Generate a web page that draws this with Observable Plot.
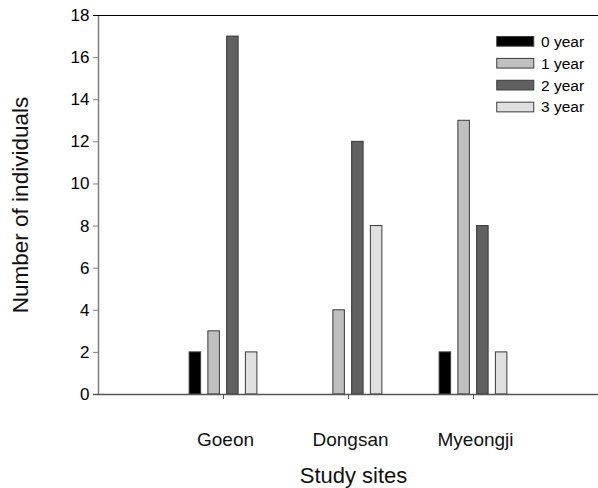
<!DOCTYPE html>
<html>
<head>
<meta charset="utf-8">
<script src="https://cdn.jsdelivr.net/npm/d3@7"></script>
<script src="https://cdn.jsdelivr.net/npm/@observablehq/plot@0.6"></script>
<style>
  html, body { margin: 0; padding: 0; background: #fff; }
  svg { display: block; }
</style>
</head>
<body>
<div id="chart"></div>
<script>
const sites = ["Goeon", "Dongsan", "Myeongji"];
const years = ["0 year", "1 year", "2 year", "3 year"];
const colors = ["#000000", "#c0c0c0", "#606060", "#e0e0e0"];
const values = {
  "0 year": [2, 0, 2],
  "1 year": [3, 4, 13],
  "2 year": [17, 12, 8],
  "3 year": [2, 8, 2]
};
const yTicks = [0, 2, 4, 6, 8, 10, 12, 14, 16, 18];
const xTicks = [1, 2, 3];

const data = [];
sites.forEach((s, i) => years.forEach((yr, j) => {
  data.push({site: s, si: i, year: yr, yj: j, value: values[yr][i]});
}));
const bars = data.filter(d => d.value > 0);

const pitch = 0.15, bw = 0.092;
const cx = d => d.si + 1 + (d.yj - 1.5) * pitch;

const legendRows = years.map((yr, j) => ({year: yr, j}));
const legendY = j => 16.75 - j * 1.04;

const plot = Plot.plot({
  width: 598,
  height: 488,
  marginLeft: 98,
  marginRight: 0,
  marginTop: 15,
  marginBottom: 94,
  style: {fontFamily: "Liberation Sans, Arial, sans-serif", fontSize: "14px", color: "#000", background: "#fff"},
  x: {type: "linear", domain: [0, 4], axis: null},
  y: {type: "linear", domain: [0, 18], axis: null},
  color: {domain: years, range: colors},
  marks: [
    Plot.rectY(bars, {
      x1: d => cx(d) - bw / 2, x2: d => cx(d) + bw / 2,
      y1: 0, y2: "value",
      fill: "year", stroke: "#3a3a3a", strokeWidth: 1
    }),
    // left axis (gray)
    Plot.ruleX([0], {y1: 0, y2: 18, stroke: "#808080", strokeWidth: 1.5}),
    Plot.ruleY(yTicks, {y: d => d, x1: -0.04, x2: 0, stroke: "#808080", strokeWidth: 1}),
    Plot.text(yTicks, {x: 0, y: d => d, text: d => String(d), textAnchor: "end", dx: -9, fontSize: 17, fill: "#000"}),
    // top line
    Plot.ruleY([18], {x1: -0.04, x2: 4, stroke: "#000", strokeWidth: 1.2}),
    // bottom axis
    Plot.ruleY([0], {x1: -0.04, x2: 4, stroke: "#555", strokeWidth: 1.5}),
    Plot.ruleX(xTicks, {x: d => d, y1: 0, y2: -0.24, stroke: "#555"}),
    Plot.text(sites, {x: (d, i) => xTicks[i], y: 0, text: d => d, dy: 45, dx: 2, fontSize: 19, fill: "#111"}),
    Plot.text(["Study sites"], {x: 2, y: 0, text: d => d, dy: 81, dx: 5, fontSize: 22, fill: "#111"}),
    Plot.text(["Number of individuals"], {x: 0, y: 9, text: d => d, rotate: -90, dx: -78, fontSize: 22.5, fill: "#111"}),
    // legend
    Plot.rect(legendRows, {
      x1: 3.19, x2: 3.486,
      y1: d => legendY(d.j) - 0.23, y2: d => legendY(d.j) + 0.23,
      fill: "year", stroke: "#3a3a3a", strokeWidth: 1
    }),
    Plot.text(legendRows, {x: 3.54, y: d => legendY(d.j), text: "year", textAnchor: "start", fontSize: 15.5, fill: "#000"})
  ]
});

document.getElementById("chart").appendChild(plot);
</script>
</body>
</html>
